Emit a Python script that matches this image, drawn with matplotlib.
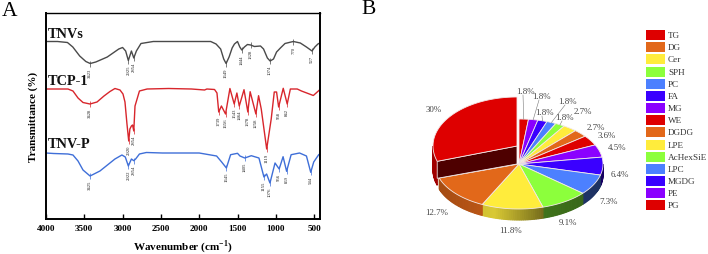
import numpy as np
import matplotlib
matplotlib.use("Agg")
import matplotlib.pyplot as plt

plt.rcParams['font.family'] = ['Liberation Serif', 'DejaVu Serif']
plt.rcParams['mathtext.fontset'] = 'custom'
plt.rcParams['mathtext.bf'] = 'Liberation Serif:bold'

# FTIR curves: wavenumber and transmittance (arbitrary units)
tnvs_wn = [4000, 3850, 3720, 3650, 3560, 3480, 3423, 3350, 3200, 3050, 3000, 2960, 2925, 2885, 2854, 2820,
           2760, 2600, 1850, 1780, 1720, 1680, 1649, 1610, 1570, 1540, 1500, 1470, 1444, 1410, 1370, 1328,
           1280, 1200, 1160, 1110, 1074, 1030, 990, 940, 880, 800, 770, 680, 600, 527, 490, 450, 425]
tnvs_t = [177.5, 177.5, 176.5, 172, 163, 157.5, 155.5, 157, 162, 170, 171.5, 168, 158.5, 168, 161, 168,
          175.5, 177.5, 177.5, 175, 170, 160, 155.5, 162, 171, 175, 177.5, 172, 169, 172, 174.5, 174,
          172.5, 173, 170, 161, 158, 160, 167, 171, 175.5, 177, 177.5, 176, 172, 168, 172, 175, 176]

tcp_wn = [4000, 3850, 3713, 3648, 3582, 3517, 3426, 3334, 3243, 3165, 3100, 3034, 2995, 2969, 2943, 2920,
          2905, 2885, 2870, 2854, 2838, 2780, 2680, 2400, 2100, 1930, 1900, 1800, 1768, 1745, 1710, 1656,
          1599, 1543, 1508, 1477, 1415, 1365, 1335, 1260, 1225, 1190, 1119, 1060, 1020, 990, 963, 903, 851,
          810, 720, 665, 510, 430]
tcp_t = [130, 130, 130, 128, 121, 116.5, 115, 117, 123, 127.5, 130.5, 129, 125, 117, 95, 78,
         90, 93, 94, 88, 113, 128, 130, 130.5, 130, 129, 130, 129.5, 126, 107, 113, 105,
         130.5, 115, 126, 113, 129.3, 107, 127.3, 105, 123.3, 110, 70, 100, 127, 127, 112, 130.7, 115,
         130, 130, 128, 123.5, 129]

tnvp_wn = [4000, 3900, 3713, 3648, 3582, 3517, 3425, 3296, 3100, 3009, 2965, 2925, 2885, 2854, 2830, 2780,
           2690, 2480, 2000, 1773, 1707, 1645, 1590, 1500, 1468, 1405, 1320, 1220, 1155, 1120, 1076, 1010,
           956, 905, 859, 800, 690, 600, 544, 505, 440, 425]
tnvp_t = [66, 65.5, 65, 64, 58, 49, 43, 48, 60, 64, 62, 53, 60, 58.3, 60, 65,
          66.5, 66, 66, 63, 57, 51, 64.3, 65.7, 63, 61, 63.3, 61, 42, 45, 36, 56,
          50, 62.3, 47.7, 64.3, 66, 63, 46.7, 57, 64.3, 65]

tnvs_peaks = [3423, 2925, 2854, 1649, 1444, 1328, 1074, 770, 527]
tcp_peaks = [3426, 2920, 2854, 1745, 1656, 1543, 1477, 1365, 1260, 1119, 963, 851]
tcp_peak_labels = ['3428', '2920', '2854', '1739', '1656', '1543', '1464', '1378', '1258', '1119', '958', '842']
tnvp_peaks = [3425, 2925, 2854, 1645, 1405, 1155, 1076, 956, 859, 544]
tnvp_peak_labels = ['3425', '2922', '2854', '1645', '1405', '1155', '1076', '956', '859', '544']

# Pie data, clockwise from 12 o'clock
lipids = ['PG', 'PE', 'MGDG', 'LPC', 'AcHexSiE', 'LPE', 'DGDG', 'WE', 'MG', 'FA', 'PC', 'SPH', 'Cer', 'DG', 'TG']
shares = [1.8, 1.8, 1.8, 1.8, 1.8, 2.7, 2.7, 3.6, 4.5, 6.4, 7.3, 9.1, 11.8, 12.7, 30]
legend_order = ['TG', 'DG', 'Cer', 'SPH', 'PC', 'FA', 'MG', 'WE', 'DGDG', 'LPE', 'AcHexSiE', 'LPC', 'MGDG', 'PE', 'PG']

RED, ORANGE, YELLOW, GREEN, SKY, BLUE, PURPLE = '#DE0000', '#E2681A', '#FFEC3C', '#8CFF3C', '#4C80FF', '#3A00FF', '#8A00FF'
lipid_colors = dict(zip(legend_order, [RED, ORANGE, YELLOW, GREEN, SKY, BLUE, PURPLE, RED, ORANGE, YELLOW, GREEN,
                                       SKY, BLUE, PURPLE, RED]))
label_pos = [(525, 92), (541, 97), (544, 113), (567, 102), (564, 118), (583, 112), (596, 128), (607, 136),
             (617, 148), (620, 175), (609, 202), (568, 223), (510, 231), (437, 213), (434, 110)]

W, H = 708, 255
fig = plt.figure(figsize=(W / 100, H / 100), dpi=100)


def add_px_axes(left, top, right, bottom):
    return fig.add_axes([left / W, 1 - bottom / H, (right - left) / W, (bottom - top) / H])


# ---- Panel A
ax = add_px_axes(46, 14, 320, 220)
ax.set_xlim(4000, 423)
ax.set_ylim(0, 206)


def draw_curve(wn, t, color, name, name_y, peaks, labels=None):
    ax.plot(wn, t, color=color, lw=1.0, solid_joinstyle='round')
    ax.text(3975, name_y, name, fontsize=10.4, fontweight='bold', color='#111111', va='center')
    labels = labels or [str(p) for p in peaks]
    for p, lab in zip(peaks, labels):
        y = np.interp(-p, -np.array(wn), t)
        ax.vlines(p, y - 3, y + 3, color=color, lw=0.5)
        ax.text(p, y - 4, lab, rotation=90, fontsize=3.4, color='#222222', ha='center', va='top')


draw_curve(tnvs_wn, tnvs_t, '#4A4A4A', 'TNVs', 186, tnvs_peaks)
draw_curve(tcp_wn, tcp_t, '#D8262C', 'TCP-1', 139, tcp_peaks, tcp_peak_labels)
draw_curve(tnvp_wn, tnvp_t, '#3F6FD8', 'TNV-P', 76, tnvp_peaks, tnvp_peak_labels)

ax.set_xticks([4000, 3500, 3000, 2500, 2000, 1500, 1000, 500])
ax.set_yticks([])
ax.tick_params(axis='x', direction='in', length=3.5, width=1, labelsize=6.6, pad=3.5)
for lab in ax.get_xticklabels():
    lab.set_fontweight('bold')
for side, lw in zip(['left', 'right', 'bottom', 'top'], [1.4, 1.4, 1.4, 1.0]):
    ax.spines[side].set_linewidth(lw)
fig.text(183 / W, 1 - 247 / H, r'Wavenumber (cm$^{\mathbf{-1}}$)', fontsize=8, fontweight='bold', ha='center', va='center')
fig.text(33 / W, 1 - 117 / H, 'Transmittance (%)', fontsize=8, fontweight='bold', rotation=90, ha='center', va='center')

# ---- Panel B, overlay in pixel coordinates
pax = fig.add_axes([0, 0, 1, 1])
pax.set_xlim(0, W)
pax.set_ylim(H, 0)
pax.axis('off')
pax.patch.set_alpha(0)
pax.text(2, 11, 'A', fontsize=15.5, ha='left', va='center', color='black')
pax.text(361, 10, 'B', fontsize=15.5, ha='left', va='center', color='black')

CX, CY, RX, RY, DEPTH = 519, 165, 84, 45, 11
TG_CX, TG_CY, TG_RX, TG_RY, TG_DEPTH = 517, 147, 84, 49, 17


def rim(cx, cy, rx, ry, theta):
    return cx + rx * np.cos(theta), cy - ry * np.sin(theta)


def shade(color, theta):
    # darker on the right of the front wall, as in the picture
    f = np.interp(np.cos(theta), [-1, -0.3, 0.3, 1], [0.72, 0.85, 0.45, 0.38])
    return tuple(np.array(matplotlib.colors.to_rgb(color)) * f)


def draw_wall(color, a0, a1, cx, cy, rx, ry, depth):
    ts = np.arange(a0, a1, np.radians(1.5) * np.sign(a1 - a0))
    ts = np.append(ts, a1)
    for t0, t1 in zip(ts[:-1], ts[1:]):
        if np.sin((t0 + t1) / 2) > 0:
            continue
        x0, y0 = rim(cx, cy, rx, ry, t0)
        x1, y1 = rim(cx, cy, rx, ry, t1)
        c = shade(color, (t0 + t1) / 2)
        pax.fill([x0, x1, x1, x0], [y0, y1, y1 + depth, y0 + depth], color=c, lw=0.8, zorder=2)


fractions = np.array(shares) / np.sum(shares)
edges = np.pi / 2 - 2 * np.pi * np.concatenate([[0], np.cumsum(fractions)])
mids = (edges[:-1] + edges[1:]) / 2

for i, name in enumerate(lipids):
    if name == 'TG':
        continue
    draw_wall(lipid_colors[name], edges[i], edges[i + 1], CX, CY, RX, RY, DEPTH)

for i, name in enumerate(lipids):
    if name == 'TG':
        continue
    ts = np.linspace(edges[i], edges[i + 1], 40)
    xs, ys = rim(CX, CY, RX, RY, ts)
    pax.fill(np.r_[CX, xs], np.r_[CY, ys], facecolor=lipid_colors[name], edgecolor='#F2E8E8', lw=0.6, zorder=3)

# TG is pulled out and shows its cut face
a0, a1 = edges[-2], edges[-1]
draw_wall(RED, a0, np.radians(-180), TG_CX, TG_CY, TG_RX, TG_RY, 24)
ex, ey = rim(TG_CX, TG_CY, TG_RX, TG_RY, a0)
pax.fill([TG_CX, ex, ex, TG_CX], [TG_CY, ey, ey + TG_DEPTH, TG_CY + 18], facecolor='#4E0000', edgecolor='#F2E8E8',
         lw=0.6, zorder=4)
ts = np.linspace(a0, a1, 80)
xs, ys = rim(TG_CX, TG_CY, TG_RX, TG_RY, ts)
pax.fill(np.r_[TG_CX, xs], np.r_[TG_CY, ys], facecolor=RED, edgecolor='#F2E8E8', lw=0.6, zorder=5)

for i, (value, (lx, ly)) in enumerate(zip(shares, label_pos)):
    txt = f'{value:g}%'
    pax.text(lx, ly, txt, fontsize=6.4, color='#444444', ha='center', va='center', zorder=6)
    if i < 5:
        mx, my = rim(CX, CY, RX, RY, mids[i])
        pax.plot([lx - 2, mx], [ly + 4, my], color='#777777', lw=0.4, zorder=6)

# legend
for i, name in enumerate(legend_order):
    y = 36 + i * 12.17
    pax.add_patch(plt.Rectangle((646, y - 5), 19, 10, facecolor=lipid_colors[name], edgecolor='none'))
    pax.text(668, y, name, fontsize=6.6, color='#333333', ha='left', va='center')

plt.savefig('out.png', dpi=100)
